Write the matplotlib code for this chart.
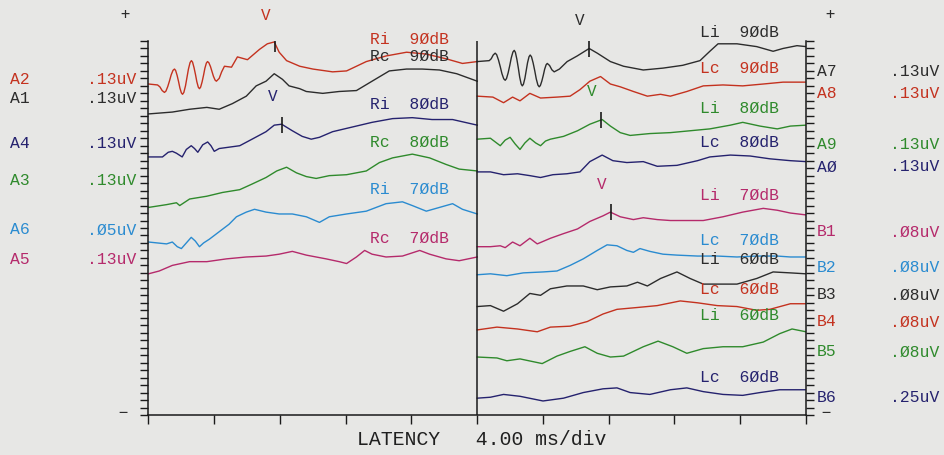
import numpy as np
import matplotlib.pyplot as plt

# ------------------------------------------------------------
# ABR waveforms.
# t = latency [ms] inside each 20 ms panel, v = deflection from the
# start of the trace, in ladder units (40 units = full height)
# ------------------------------------------------------------

# ---- left panel (right ear) ----
ri90_t = [0.0, 0.55, 0.69, 0.83, 0.97, 1.06, 1.17, 1.28, 1.38, 1.49, 1.58, 1.65, 1.74, 1.83,
          1.91, 2.0, 2.07, 2.15, 2.25, 2.34, 2.43, 2.53, 2.61, 2.68, 2.77, 2.86, 2.94, 3.03,
          3.1, 3.17, 3.26, 3.35, 3.43, 3.52, 3.59, 3.67, 3.77, 3.86, 3.95, 4.05, 4.13, 4.3,
          4.45, 4.62, 5.05, 5.41, 6.02, 6.75, 7.23, 7.65, 7.95, 8.4, 9.2, 10.0, 11.2, 12.05,
          13.25, 14.45, 15.7, 16.9, 18.1, 19.1, 20.0]
ri90_v = [0.0, -0.1, -0.3, -0.7, -0.9, -0.76, -0.28, 0.35, 0.98, 1.46, 1.6, 1.45, 0.93, 0.25,
          -0.43, -0.95, -1.1, -0.9, -0.2, 0.7, 1.6, 2.3, 2.5, 2.34, 1.75, 1.0, 0.25, -0.34,
          -0.5, -0.34, 0.22, 0.95, 1.68, 2.24, 2.4, 2.28, 1.87, 1.35, 0.83, 0.42, 0.3, 0.6,
          1.3, 1.9, 1.8, 2.9, 2.6, 3.7, 4.3, 4.5, 3.4, 2.5, 1.9, 1.6, 1.3, 1.4,
          2.4, 3.0, 3.4, 3.2, 2.7, 2.2, 2.4]

rc90_t = [0.0, 1.45, 2.5, 3.55, 4.3, 5.1, 5.95, 6.55, 7.15, 7.65, 8.15, 8.55, 9.2, 9.6, 10.6,
          11.6, 12.65, 13.6, 14.65, 15.7, 16.65, 17.7, 18.75, 20.0]
rc90_v = [0.0, 0.2, 0.5, 0.7, 0.5, 1.1, 1.9, 3.0, 3.5, 4.3, 3.7, 3.0, 2.7, 2.4, 2.2,
          2.4, 2.5, 3.5, 4.6, 4.8, 4.8, 4.7, 4.3, 3.5]

ri80_t = [0.0, 0.85, 1.2, 1.45, 1.7, 2.05, 2.3, 2.6, 2.8, 3.0, 3.3, 3.6, 3.8, 4.0, 4.3,
          5.55, 6.3, 7.15, 7.65, 8.1, 8.75, 9.35, 9.9, 10.4, 11.2, 12.4, 13.6, 14.85,
          16.05, 17.25, 18.5, 20.0]
ri80_v = [0.0, 0.0, 0.5, 0.6, 0.4, 0.0, 0.8, 1.2, 0.9, 0.5, 1.3, 1.6, 1.2, 0.6, 0.9,
          1.2, 1.9, 2.7, 3.4, 3.5, 2.8, 2.2, 1.9, 2.1, 2.7, 3.2, 3.7, 4.1,
          4.2, 4.0, 4.0, 3.4]

rc80_t = [0.0, 1.1, 1.7, 1.9, 2.5, 3.55, 4.5, 5.55, 6.3, 7.15, 7.8, 8.4, 9.0, 9.6, 10.2,
          11.0, 12.05, 13.25, 14.05, 14.85, 16.05, 17.1, 18.1, 18.9, 20.0]
rc80_v = [0.0, 0.3, 0.5, 0.2, 0.9, 1.2, 1.6, 1.9, 2.5, 3.2, 3.9, 4.3, 3.7, 3.3, 3.1,
          3.4, 3.5, 3.9, 4.8, 5.3, 5.7, 5.3, 4.6, 4.1, 3.9]

ri70_t = [0.0, 1.1, 1.45, 1.75, 2.0, 2.25, 2.6, 2.85, 3.1, 3.35, 3.7, 4.3, 4.9, 5.35, 5.95,
          6.45, 7.15, 7.95, 8.75, 9.6, 10.4, 11.0, 12.05, 13.25, 14.45, 15.45, 16.05, 16.9,
          17.7, 18.5, 19.1, 20.0]
ri70_v = [0.0, -0.2, 0.0, -0.5, -0.7, -0.2, 0.5, 0.1, -0.5, -0.1, 0.3, 1.1, 1.9, 2.7, 3.2,
          3.5, 3.2, 3.0, 3.0, 2.7, 2.1, 2.7, 3.0, 3.3, 4.1, 4.3, 3.9, 3.3,
          3.7, 4.1, 3.5, 3.0]

rc70_t = [0.0, 0.65, 1.45, 2.5, 3.55, 4.75, 5.95, 7.15, 7.95, 8.75, 9.6, 10.8, 11.6, 12.05,
          12.65, 13.15, 13.6, 14.45, 15.45, 16.5, 17.1, 18.1, 18.9, 20.0]
rc70_v = [0.0, 0.3, 0.9, 1.3, 1.3, 1.6, 1.8, 1.9, 2.1, 2.4, 2.0, 1.6, 1.3, 1.1,
          1.8, 2.5, 2.1, 1.8, 1.9, 2.5, 2.1, 1.6, 1.4, 1.8]

# ---- right panel (left ear) ----
li90_t = [0.0, 0.73, 0.85, 0.97, 1.09, 1.18, 1.29, 1.4, 1.5, 1.61, 1.7, 1.78, 1.88, 1.98,
          2.07, 2.17, 2.25, 2.32, 2.41, 2.5, 2.58, 2.67, 2.74, 2.81, 2.9, 2.98, 3.06, 3.15,
          3.22, 3.3, 3.4, 3.5, 3.59, 3.69, 3.77, 3.84, 3.93, 4.02, 4.1, 4.19, 4.26, 4.4,
          4.54, 4.68, 5.0, 5.47, 6.08, 6.81, 7.3, 8.1, 8.9, 10.1, 11.3, 12.5, 13.55, 14.15,
          14.65, 15.8, 17.0, 18.0, 18.6, 19.45, 20.0]
li90_v = [0.0, 0.1, 0.3, 0.7, 0.9, 0.74, 0.18, -0.55, -1.28, -1.84, -2.0, -1.82, -1.2, -0.4,
          0.4, 1.02, 1.2, 0.99, 0.25, -0.7, -1.65, -2.39, -2.6, -2.42, -1.78, -0.95, -0.12, 0.52,
          0.7, 0.51, -0.15, -1.0, -1.85, -2.51, -2.7, -2.56, -2.08, -1.45, -0.82, -0.34, -0.2, -0.42,
          -0.88, -1.1, -0.8, 0.0, 0.6, 1.4, 0.9, 0.0, -0.5, -0.9, -0.7, -0.4, 0.1, 1.1,
          1.9, 1.9, 1.6, 1.1, 1.4, 1.7, 1.6]

lc90_t = [0.0, 0.95, 1.6, 2.15, 2.6, 3.2, 3.85, 4.85, 5.65, 6.25, 6.85, 7.5, 8.1, 8.7, 9.5,
          10.35, 11.15, 11.75, 12.75, 13.75, 14.95, 16.15, 17.4, 18.6, 20.0]
lc90_v = [0.0, -0.1, -0.7, -0.1, -0.5, 0.3, -0.2, -0.1, 0.0, 0.7, 1.6, 2.1, 1.3, 1.0, 0.5,
          0.0, 0.2, 0.0, 0.5, 1.1, 1.2, 1.1, 1.3, 1.5, 1.5]

li80_t = [0.0, 0.8, 1.1, 1.4, 1.7, 2.0, 2.3, 2.6, 2.9, 3.2, 3.55, 3.85, 4.15, 4.45, 5.25,
          6.1, 6.85, 7.6, 8.1, 8.7, 9.3, 10.5, 11.75, 12.95, 14.15, 15.4, 16.15, 17.2,
          18.25, 19.05, 20.0]
li80_v = [0.0, 0.1, -0.3, -0.7, -0.1, 0.2, -0.5, -1.1, -0.4, 0.1, -0.4, -0.7, -0.2, 0.0, 0.3,
          0.9, 1.6, 2.1, 1.4, 0.7, 0.4, 0.6, 0.7, 0.9, 1.1, 1.5, 1.8, 1.4,
          1.1, 1.4, 1.5]

lc80_t = [0.0, 0.8, 1.6, 2.45, 3.2, 3.85, 4.6, 5.45, 6.25, 6.85, 7.6, 8.25, 9.1, 10.1, 10.95,
          12.15, 13.4, 14.15, 15.4, 16.6, 17.8, 19.05, 20.0]
lc80_v = [0.0, 0.0, -0.3, -0.2, -0.4, -0.6, -0.3, -0.2, 0.0, 1.1, 1.8, 1.2, 1.0, 1.1, 0.6,
          0.7, 1.2, 1.6, 1.8, 1.7, 1.4, 1.2, 1.1]

li70_t = [0.0, 0.8, 1.4, 1.7, 2.15, 2.6, 3.2, 3.65, 4.45, 5.25, 6.1, 6.85, 7.65, 8.1, 8.7,
          9.5, 10.1, 10.95, 11.75, 12.5, 13.75, 14.95, 16.15, 17.4, 18.25, 19.05, 20.0]
li70_v = [0.0, 0.0, 0.1, -0.1, 0.5, 0.1, 0.9, 0.3, 0.9, 1.4, 1.9, 2.7, 3.3, 3.7, 3.2,
          2.9, 3.1, 2.9, 2.8, 2.8, 2.8, 3.2, 3.7, 4.1, 3.9, 3.6, 3.4]

lc70_t = [0.0, 0.8, 1.8, 2.8, 4.0, 4.85, 5.65, 6.45, 7.3, 7.9, 8.5, 9.1, 9.5, 9.9, 10.5,
          11.3, 12.15, 13.4, 14.6, 15.8, 17.0, 18.25, 19.05, 20.0]
lc70_v = [0.0, 0.1, -0.1, 0.2, 0.3, 0.4, 1.0, 1.7, 2.6, 3.2, 3.1, 2.6, 2.4, 2.8, 2.5,
          2.2, 2.1, 2.0, 2.0, 1.9, 2.0, 2.0, 1.9, 1.9]

li60_t = [0.0, 0.8, 1.6, 2.45, 3.2, 3.85, 4.45, 5.45, 6.45, 7.3, 8.1, 9.1, 9.75, 10.35, 11.15,
          12.15, 12.95, 13.75, 14.95, 15.8, 17.0, 18.0, 19.05, 20.0]
li60_v = [0.0, 0.1, -0.5, 0.3, 1.4, 1.2, 1.9, 2.2, 2.2, 1.8, 2.1, 2.2, 2.6, 2.2, 3.0,
          3.7, 3.0, 2.4, 2.4, 2.4, 3.0, 3.7, 3.6, 3.5]

lc60_t = [0.0, 1.2, 2.45, 3.65, 4.45, 5.65, 6.7, 7.65, 8.5, 9.75, 10.95, 12.35, 13.4, 14.6,
          15.8, 17.0, 17.8, 19.05, 20.0]
lc60_v = [0.0, 0.3, 0.1, -0.2, 0.3, 0.4, 0.9, 1.7, 2.2, 2.4, 2.6, 3.1, 2.9, 2.6,
          2.5, 2.1, 2.2, 2.8, 2.8]

li60b_t = [0.0, 1.2, 1.8, 2.6, 3.95, 4.85, 5.65, 6.55, 7.3, 8.1, 8.9, 10.1, 11.0, 11.9, 12.75,
           13.75, 14.95, 16.15, 17.4, 18.4, 19.15, 20.0]
li60b_v = [0.0, -0.1, -0.4, -0.2, -0.7, 0.1, 0.6, 1.1, 0.4, 0.0, 0.1, 1.1, 1.7, 1.1, 0.4,
           0.9, 1.1, 1.1, 1.6, 2.5, 3.0, 2.7]

lc60b_t = [0.0, 0.8, 1.6, 2.6, 4.0, 5.25, 6.45, 7.65, 8.5, 9.3, 10.5, 11.75, 12.75, 13.75,
           14.95, 16.15, 17.2, 18.4, 20.0]
lc60b_v = [0.0, 0.1, 0.4, 0.2, -0.3, 0.0, 0.6, 1.0, 1.1, 0.6, 0.4, 0.9, 1.1, 0.7,
           0.4, 0.3, 0.6, 0.9, 0.9]

# trace labels, channel names and gains
left_trace_labels = ["Ri  9ØdB", "Rc  9ØdB", "Ri  8ØdB", "Rc  8ØdB", "Ri  7ØdB", "Rc  7ØdB"]
left_channels = ["A2", "A1", "A4", "A3", "A6", "A5"]
left_gains = [".13uV", ".13uV", ".13uV", ".13uV", ".Ø5uV", ".13uV"]

right_trace_labels = ["Li  9ØdB", "Lc  9ØdB", "Li  8ØdB", "Lc  8ØdB", "Li  7ØdB",
                      "Lc  7ØdB", "Li  6ØdB", "Lc  6ØdB", "Li  6ØdB", "Lc  6ØdB"]
right_channels = ["A7", "A8", "A9", "AØ", "B1", "B2", "B3", "B4", "B5", "B6"]
right_gains = [".13uV", ".13uV", ".13uV", ".13uV", ".Ø8uV", ".Ø8uV", ".Ø8uV", ".Ø8uV",
               ".Ø8uV", ".25uV"]

# wave V latency marks [ms]: (panel, trace index, latency)
wave_v = [("L", 0, 7.7), ("L", 2, 8.15), ("R", 0, 6.8), ("R", 2, 7.55), ("R", 4, 8.15)]


# ============================================================
# layout / styles
# ============================================================
W, H = 945, 456
BG = "#e7e7e5"
RED = "#c4321f"
BLACK = "#2c2c2c"
NAVY = "#25226e"
GREEN = "#2f8a2c"
BLUE = "#2a8bd0"
MAGENTA = "#b52a6b"
MONO = "Liberation Mono"

left_traces = [(ri90_t, ri90_v), (rc90_t, rc90_v), (ri80_t, ri80_v),
               (rc80_t, rc80_v), (ri70_t, ri70_v), (rc70_t, rc70_v)]
left_colors = [RED, BLACK, NAVY, GREEN, BLUE, MAGENTA]
left_base = [35.4, 32.2, 27.6, 22.2, 18.5, 15.1]

right_traces = [(li90_t, li90_v), (lc90_t, lc90_v), (li80_t, li80_v), (lc80_t, lc80_v),
                (li70_t, li70_v), (lc70_t, lc70_v), (li60_t, li60_v), (lc60_t, lc60_v),
                (li60b_t, li60b_v), (lc60b_t, lc60b_v)]
right_colors = [BLACK, RED, GREEN, NAVY, MAGENTA, BLUE, BLACK, RED, GREEN, NAVY]
right_base = [37.8, 34.1, 29.5, 26.0, 18.0, 15.0, 11.6, 9.1, 6.2, 1.8]

# label rows (pixels from the top of the page)
left_label_y = [39, 56, 104, 142, 189, 238]
right_label_y = [32, 68, 108, 142, 195, 240, 259, 289, 315, 377]
left_chan_y = [80, 99, 143, 181, 230, 260]
right_chan_y = [72, 93, 145, 167, 232, 267, 295, 322, 352, 398]

fig = plt.figure(figsize=(W / 100, H / 100), dpi=100, facecolor=BG)
ax = fig.add_axes([148.5 / W, 1 - 416 / H, 657.5 / W, 374 / H])
ax.set_facecolor(BG)
ax.set_xlim(0, 40)
ax.set_ylim(0, 40)


def px(x, y):
    return x / W, 1 - y / H


# ---- traces ----
panels = {"L": (0.0, left_traces, left_colors, left_base),
          "R": (20.0, right_traces, right_colors, right_base)}

for side, (t0, traces, colors, bases) in panels.items():
    for (t, v), c, b in zip(traces, colors, bases):
        ax.plot(np.array(t) + t0, np.array(v) + b, color=c, lw=1.0,
                solid_joinstyle="round")

# ---- wave V marks ----
for side, idx, lat in wave_v:
    t0, traces, colors, bases = panels[side]
    t, v = traces[idx]
    yv = np.interp(lat, t, v) + bases[idx]
    ax.plot([lat + t0], [yv], marker="|", markersize=11, mew=1.2, color="#1a1a1a")
    ax.annotate("V", (lat + t0, yv), xytext=(-7, 21), textcoords="offset points",
                ha="center", va="center", fontsize=11.5, family=MONO, color=colors[idx])

# ---- frame: ladders, divider, latency axis ----
ax.axvline(20, color="#1a1a1a", lw=1.1)
for s in ["left", "right", "bottom"]:
    ax.spines[s].set_color("#1a1a1a")
    ax.spines[s].set_linewidth(1.1)
ax.spines["top"].set_visible(False)
ax.set_yticks(np.linspace(0, 40, 51))
ax.tick_params(axis="y", left=True, right=True, direction="out", length=6, width=1,
               color="#1a1a1a", labelleft=False, labelright=False)
ax.set_xticks(np.arange(0, 41, 4))
ax.tick_params(axis="x", direction="out", length=6.5, width=1, color="#1a1a1a",
               labelbottom=False)

# ---- texts ----
FS = 11.8
for lab, y, c in zip(left_trace_labels, left_label_y, left_colors):
    fig.text(*px(370, y), lab, ha="left", va="center", fontsize=FS, family=MONO, color=c)
for lab, y, c in zip(right_trace_labels, right_label_y, right_colors):
    fig.text(*px(700, y), lab, ha="left", va="center", fontsize=FS, family=MONO, color=c)

for ch, g, y, c in zip(left_channels, left_gains, left_chan_y, left_colors):
    fig.text(*px(10, y), ch, ha="left", va="center", fontsize=FS, family=MONO, color=c)
    fig.text(*px(136, y), g, ha="right", va="center", fontsize=FS, family=MONO, color=c)
for ch, g, y, c in zip(right_channels, right_gains, right_chan_y, right_colors):
    fig.text(*px(817, y), ch, ha="left", va="center", fontsize=FS, family=MONO, color=c)
    fig.text(*px(939, y), g, ha="right", va="center", fontsize=FS, family=MONO, color=c)

for x, y, s in [(125, 15, "+"), (830, 15, "+"), (123, 413, "−"), (826, 413, "−")]:
    fig.text(*px(x, y), s, ha="center", va="center", fontsize=11, family="DejaVu Sans Mono",
             color=BLACK)

fig.text(*px(357, 440), "LATENCY   4.00 ms/div", ha="left", va="center",
         fontsize=14.3, family="Liberation Mono", color="#202020")

fig.savefig("out.png", dpi=100, facecolor=BG)
